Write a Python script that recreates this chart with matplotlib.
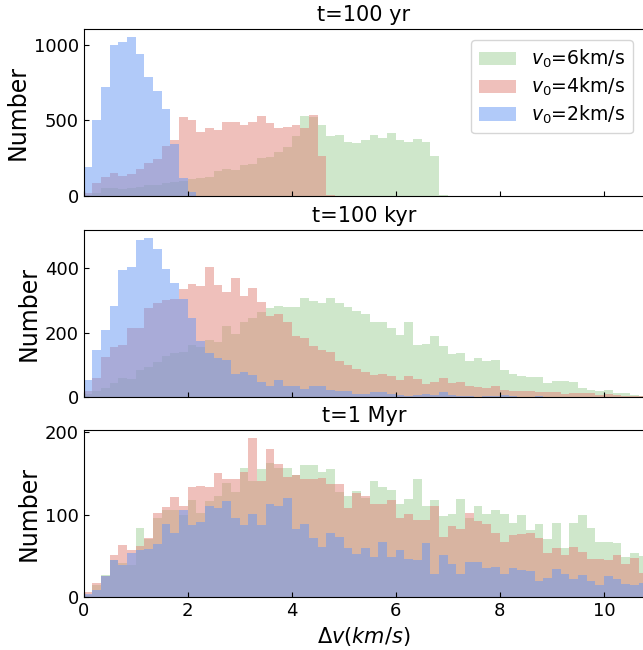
import numpy as np
import matplotlib
matplotlib.use("Agg")
import matplotlib.pyplot as plt
from matplotlib.ticker import MultipleLocator

# bin edges: width 1/6 km/s
edges = np.arange(66) / 6.0
centers = 0.5 * (edges[:-1] + edges[1:])

# ---- t = 100 yr ----
yr_v6 = [5, 22, 53, 50, 45, 50, 60, 70, 75, 85, 90, 100, 113, 120, 127, 167, 180, 173, 207, 213,
         253, 260, 293, 327, 400, 527, 520, 473, 400, 407, 360, 353, 373, 407, 387, 420, 373, 360,
         380, 360, 267, 7] + [0] * 23
yr_v4 = [22, 87, 127, 153, 133, 147, 182, 220, 247, 333, 373, 520, 500, 427, 447, 440, 493, 487,
         467, 487, 527, 480, 453, 460, 473, 453, 533, 267, 7] + [0] * 36
yr_v2 = [189, 500, 720, 1000, 1020, 1053, 940, 787, 693, 573, 344, 120, 27] + [0] * 52

# ---- t = 100 kyr ----
kyr_v6 = [8, 19, 28, 44, 60, 57, 85, 94, 110, 126, 138, 141, 163, 154, 176, 170, 219, 197, 232,
          245, 264, 275, 284, 278, 281, 306, 297, 291, 306, 291, 281, 266, 259, 234, 234, 213,
          194, 234, 163, 166, 188, 159, 134, 138, 113, 122, 113, 116, 84, 72, 66, 63, 63, 44, 50,
          50, 47, 28, 22, 19, 22, 12, 12, 6, 3]
kyr_v4 = [19, 60, 125, 156, 160, 213, 213, 276, 291, 300, 303, 334, 350, 344, 403, 347, 325, 371,
          315, 340, 295, 253, 259, 234, 191, 184, 159, 147, 140, 112, 100, 88, 78, 69, 72, 66, 53,
          66, 56, 41, 47, 59, 44, 47, 34, 31, 28, 34, 22, 19, 19, 19, 16, 16, 16, 9, 12, 12, 12,
          6, 9, 6, 3, 3, 3]
kyr_v2 = [53, 145, 209, 284, 394, 403, 488, 494, 459, 397, 353, 303, 244, 175, 137, 122, 116, 72,
          78, 69, 47, 34, 53, 34, 34, 25, 34, 34, 22, 19, 19, 9, 9, 16, 16, 9, 6, 3, 6, 9, 6, 16,
          6, 3, 3, 0, 3, 3, 6, 2, 1, 1, 2, 1, 0, 1, 0, 0, 1, 0, 0, 0, 0, 0, 0]

# ---- t = 1 Myr ----
myr_v6 = [3, 15, 27, 45, 41, 39, 84, 70, 96, 105, 106, 100, 118, 102, 116, 123, 138, 127, 157,
          141, 155, 163, 156, 156, 148, 160, 160, 152, 155, 128, 122, 129, 120, 141, 134, 130,
          113, 119, 143, 110, 118, 98, 101, 119, 96, 110, 101, 105, 101, 90, 100, 81, 88, 70, 90,
          59, 90, 99, 84, 67, 67, 66, 48, 53, 50]
myr_v4 = [6, 17, 26, 51, 63, 57, 62, 71, 102, 109, 121, 111, 133, 135, 134, 150, 143, 143, 152,
          193, 141, 180, 161, 146, 148, 143, 143, 145, 137, 137, 108, 126, 123, 113, 113, 118, 96,
          101, 93, 94, 111, 73, 86, 82, 102, 92, 89, 78, 67, 75, 76, 78, 72, 53, 59, 51, 61, 54,
          46, 46, 45, 51, 40, 47, 29]
myr_v2 = [4, 8, 25, 45, 39, 53, 57, 58, 64, 89, 78, 106, 87, 91, 110, 108, 116, 96, 87, 101, 87,
          113, 111, 120, 82, 89, 71, 61, 78, 73, 60, 52, 59, 49, 67, 48, 57, 46, 45, 66, 28, 51,
          40, 28, 43, 42, 35, 36, 28, 35, 33, 31, 20, 23, 34, 28, 22, 27, 19, 14, 25, 22, 16, 14,
          17]

titles = ["t=100 yr", "t=100 kyr", "t=1 Myr"]
labels = [r"$v_0$=6km/s", r"$v_0$=4km/s", r"$v_0$=2km/s"]
panels = [(yr_v6, yr_v4, yr_v2), (kyr_v6, kyr_v4, kyr_v2), (myr_v6, myr_v4, myr_v2)]
ytick_step = [500, 200, 100]

colors = ["#a1d199", "#e18379", "#6597f5"]

W, H = 643, 650
fig = plt.figure(figsize=(W / 100, H / 100), dpi=100)

left = 83.5 / W
width = (644 - 83.5) / W
ax_h = 167 / H
bottoms = [1 - 196 / H, 1 - 397 / H, 1 - 597 / H]

for k, (data, title) in enumerate(zip(panels, titles)):
    ax = fig.add_axes([left, bottoms[k], width, ax_h])
    for counts, c, lab in zip(data, colors, labels):
        ax.hist(centers, bins=edges, weights=counts, color=c, alpha=0.5, label=lab)
    ax.set_xlim(0, 10.77)
    ax.set_ylim(bottom=0)
    ax.yaxis.set_major_locator(MultipleLocator(ytick_step[k]))
    ax.xaxis.set_major_locator(MultipleLocator(2))
    ax.tick_params(direction="in", labelsize=13)
    ax.set_title(title, fontsize=15)
    ax.set_ylabel("Number", fontsize=17, labelpad=3)
    if k < 2:
        ax.tick_params(labelbottom=False)
    else:
        ax.set_xlabel(r"$\Delta v(km/s)$", fontsize=15)
    if k == 0:
        ax.legend(loc="upper right", fontsize=13.5, labelspacing=0.3,
                  borderaxespad=0.6)

fig.savefig("out.png", dpi=100)
